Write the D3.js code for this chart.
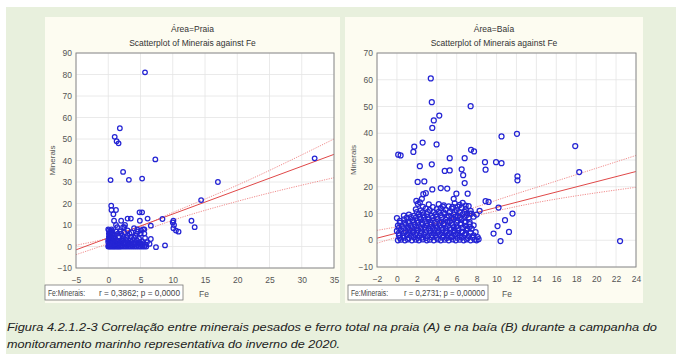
<!DOCTYPE html>
<html>
<head>
<meta charset="utf-8">
<script src="https://cdn.jsdelivr.net/npm/d3@7/dist/d3.min.js"></script>
<style>
  html, body { margin: 0; padding: 0; background: #fff; }
  text { font-family: "Liberation Sans", Arial, sans-serif; }
</style>
</head>
<body>
<svg id="chart" width="676" height="354"></svg>
<script>
// ---- data ----
const praiaPoints = [
  [5.7,81],[1.8,55],[1.0,51],[1.3,49],[1.6,48],[7.3,40.5],
  [0.36,30.9],[2.3,34.7],[3.2,31],[5.25,31.6],
  [17,30],[14.4,21.6],[32,41],
  [0.46,19],[0.5,17],[1.2,17],[0.8,15],
  [2.0,12],[3.0,13],[3.5,13],[2.6,10],[2.3,9],
  [4.85,15.9],[5.25,15.9],[6.1,13],[4.9,12],[6.6,9.7],[8.4,12.8],
  [10.0,11.2],[10.1,12],[10.2,10],[10.1,8.5],[10.5,7.4],[10.9,6.9],[12.9,12],[13.4,9],
  [8.8,0.5],[7.4,-0.3],[6.6,3.5],[6.4,1.2],[5.0,6],[4.5,8],[5.6,8],
  // dense cluster
  [0,0],[0.2,0],[0.4,0],[0.6,0],[0.8,0],[1.0,0],[1.2,0],[1.4,0],[1.6,0],[1.8,0],
  [2.0,0],[2.3,0],[2.6,0],[2.9,0],[3.2,0],[3.5,0],[3.8,0],[4.1,0],[4.4,0],[4.7,0],
  [5.0,0],[5.3,0],[5.6,0],[5.9,0],
  [0.05,0.3],[0.25,0.4],[0.45,0.3],[0.65,0.4],[0.85,0.3],
  [0.1,0.8],[0.5,0.6],[0.9,1],[1.3,0.7],[1.7,0.9],[2.1,0.6],[2.5,1],[2.9,0.7],
  [3.3,0.9],[3.7,0.6],[4.1,1],[4.5,0.7],[4.9,0.9],[5.3,0.6],
  [0,2],[0.3,2],[0.7,2],[1.1,2],[1.5,2],[2.0,2],[2.4,2],[3.0,2],[3.6,2],[4.2,2],[4.8,2],
  [0.1,1],[0.3,1.5],[0.5,2.5],[0.7,1.2],[0.2,3.5],[0.4,4.2],[0.6,5],[0.3,6],[0.5,7.2],
  [0.1,7.5],[0.7,6.2],[0.8,2.8],[0.9,3.5],[1.1,1.5],[1.3,3],[1.6,2.5],[1.9,1.5],[2.2,2.8],
  [2.6,1.7],[2.8,3],[3.2,1.5],[3.4,2.8],[3.9,1.5],[4.4,3],[4.6,1.5],[5.0,1.2],[5.5,1.5],
  [5.8,0.8],[1.0,5.5],[1.3,7],[2.0,6],[2.5,6.5],[3.0,5],[3.6,6.5],[4.0,4],[4.4,6],
  [5.1,7.5],[5.6,6],[1.7,4.5],[2.4,3.8],
  [0,3],[0.2,4],[0.4,5],[0.1,6],[0.3,7],[0.5,8],[0,8],[0.6,3],[0.2,2.5],[0.7,5.5],[0.1,4.5],
  [0.4,6.5],[0.6,7],[0.2,5.5],[0.8,4],
  [1,4],[1.5,6],[2.2,5],[2.8,4],[3.3,6],[3.8,3],[4.2,5],[4.6,7],[5.0,6],[5.4,8],
  [5.7,4],[3.0,7.5],[2.5,9],[1.8,7],[4.0,8.5],[1.2,10],[0.9,12],[1.4,9],
  [4.8,3.5],[2.0,3],[3.5,4.5],[5.2,2.5],[6.0,2]
];

const baiaPoints = [
  [3.4,60.5],[3.5,51.6],[7.4,50.1],[4.25,46.6],[3.7,44.8],[3.55,42],
  [10.5,38.8],[12.05,39.8],[17.9,35.2],[18.3,25.5],[12.1,23.9],[12.1,22.4],
  [0.13,32],[0.37,31.7],[1.74,35],[1.65,33],[2.58,36.5],[3.98,35.8],[7.44,33.8],[7.74,33.2],
  [2.3,27.7],[3.5,28.4],[5.3,30.7],[6.8,30.7],[4.8,25.9],[5.3,26.1],[6.5,26.5],[6.65,24.3],
  [6.8,21.4],[8.84,29.2],[8.9,26.4],[9.95,29.2],[10.5,28.8],[2.08,21.8],[2.75,22],
  [3.55,19],[4.4,19.5],[5.05,19.3],[7.1,17.4],[2.65,17.2],[2.9,17.6],[2.5,15.5],[1.95,14.7],
  [5.97,17.4],[5.7,15.5],[8.9,14.6],[9.2,14.3],[10.2,12.2],
  [11.6,10],[10.85,7.5],[10.1,5.3],[9.7,2.5],[11.25,3.1],[10.4,-0.3],[22.4,-0.3],
  // dense cluster
  [0.1,0],[0.4,0.2],[0.8,0],[1.1,0.3],[1.5,0],[1.9,0.2],[2.2,0],[2.6,0.3],[3.0,0],[3.3,0.2],
  [3.7,0],[4.1,0.3],[4.4,0],[4.8,0.2],[5.2,0],[5.6,0.3],[5.9,0],[6.3,0.2],[6.7,0],[7.0,0.3],
  [7.4,0],[7.8,0.2],[8.0,0],[8.2,0.4],
  [0.3,0.9],[0.7,1.0],[1.2,0.8],[1.7,1.1],[2.1,0.9],[2.5,1.0],[2.9,0.8],[3.5,1.1],[4.0,0.9],
  [4.6,1.0],[5.0,0.8],[5.4,1.1],[6.1,0.9],[6.5,1.0],[7.1,0.8],[7.6,1.0],
  [0.2,1.8],[0.6,1.5],[1.0,2.0],[1.4,1.6],[1.8,2.2],[2.3,1.7],[2.7,2.1],[3.1,1.5],[3.5,2.0],
  [3.9,1.7],[4.3,2.2],[4.7,1.6],[5.1,2.0],[5.5,1.5],[5.9,2.2],[6.3,1.7],[6.8,2.0],[7.2,1.5],
  [7.7,1.8],[8.1,1.2],
  [0.2,2.7],[0.7,2.8],[1.2,2.6],[1.6,2.9],[2.0,2.7],[2.4,2.6],[2.9,2.9],[3.3,2.7],[3.7,2.6],
  [4.1,2.8],[4.5,2.7],[4.9,2.9],[5.3,2.6],[5.7,2.8],[6.1,2.7],[6.5,2.9],[6.9,2.6],[7.4,2.8],
  [0.0,3.5],[0.4,3.8],[0.9,3.4],[1.3,3.9],[1.7,3.3],[2.1,3.7],[2.5,3.2],[2.9,4.0],[3.4,3.5],
  [3.8,3.9],[4.2,3.3],[4.6,3.8],[5.0,3.4],[5.4,4.0],[5.8,3.5],[6.2,3.8],[6.6,3.2],[7.0,3.9],
  [7.5,4.3],[7.9,3.0],
  [0.2,4.6],[0.7,4.5],[1.1,4.7],[1.5,4.4],[2.0,4.6],[2.4,4.5],[2.8,4.8],[3.2,4.4],[3.6,4.6],
  [4.0,4.5],[4.5,4.7],[4.9,4.4],[5.3,4.6],[5.7,4.8],[6.1,4.5],[6.6,4.7],[7.1,4.4],
  [0.1,5.5],[0.5,5.2],[0.9,5.8],[1.4,5.3],[1.8,5.7],[2.2,5.1],[2.6,5.9],[3.0,5.4],[3.4,5.8],
  [3.9,5.2],[4.3,5.6],[4.7,5.9],[5.1,5.3],[5.6,5.7],[6.0,5.2],[6.4,5.8],[6.9,5.4],[7.3,5.0],
  [7.7,5.6],
  [0.3,6.5],[0.8,6.6],[1.2,6.4],[1.7,6.7],[2.1,6.5],[2.5,6.6],[3.0,6.4],[3.4,6.7],[3.8,6.5],
  [4.3,6.6],[4.7,6.4],[5.1,6.7],[5.5,6.5],[6.0,6.6],[6.4,6.4],[6.8,6.7],[7.3,6.0],
  [0.0,8.3],[0.3,7.2],[0.7,7.8],[1.1,7.0],[1.6,7.6],[2.0,7.3],[2.4,7.9],[2.8,7.1],[3.2,7.7],
  [3.6,7.3],[4.1,7.8],[4.5,7.0],[4.9,7.6],[5.3,7.2],[5.7,7.9],[6.1,7.4],[6.5,7.8],[6.9,7.1],
  [7.3,6.8],
  [1.0,8.5],[1.4,8.6],[1.9,8.4],[2.3,8.7],[2.7,8.5],[3.1,8.6],[3.6,8.4],[4.0,8.7],[4.5,8.5],
  [5.0,8.6],[5.5,8.4],[5.9,8.7],[6.3,8.5],[6.8,8.6],[7.2,8.4],[7.7,8.8],
  [0.7,9.2],[1.2,9.6],[1.7,9.1],[2.2,9.7],[2.6,9.3],[3.0,9.8],[3.5,9.2],[3.9,9.7],[4.4,9.4],
  [4.8,9.9],[5.2,9.2],[5.7,9.6],[6.1,9.1],[6.6,9.7],[7.0,9.4],[7.5,10.0],[8.0,9.6],[8.3,11],
  [2.0,10.5],[2.6,10.4],[3.1,10.6],[3.7,10.5],[4.2,10.6],[4.7,10.4],[5.3,10.6],[5.8,10.5],
  [6.3,10.4],[6.8,10.6],[7.3,10.0],
  [1.9,11.5],[2.4,11.2],[2.9,11.8],[3.3,11.3],[4.0,11.6],[4.4,12.0],[4.9,11.4],[5.5,11.8],
  [6.0,11.3],[6.5,12.2],[6.9,11.6],[7.4,11.0],
  [2.6,12.5],[3.6,12.4],[4.6,12.6],[5.6,12.5],[6.1,12.6],[6.9,12.9],
  [2.1,13.6],[2.3,14.2],[3.2,13.4],[4.2,13.5],[4.7,13.0],[5.8,13.8],[6.3,13.2],[6.6,14.0],
  [7.2,12.8],[5.2,12.7]
];

// fitted line [x, y] and confidence band [x, lower, upper]
const praiaFit = [[-5,-1.55],[35,42.85]];
const praiaBand = [[-5,-3.8,0.6],[2,3.4,5.6],[10,12.2,15.8],[20,21,28.5],[35,32,50]];
const baiaFit = [[-2,0.78],[24,25.7]];
const baiaBand = [[-2,-1.1,3.7],[4,5.4,8.1],[12,12.6,17.4],[24,19.8,31.7]];

const praiaXTicks = [-5,0,5,10,15,20,25,30,35];
const praiaYTicks = [-10,0,10,20,30,40,50,60,70,80,90];
const baiaXTicks = [-2,0,2,4,6,8,10,12,14,16,18,20,22,24];
const baiaYTicks = [-10,0,10,20,30,40,50,60,70];

const svg = d3.select('#chart');

// background
svg.append('rect').attr('x', 6).attr('y', 7).attr('width', 670).attr('height', 347)
  .attr('fill', '#e8f0dd');

function drawPanel(opt) {
  const g = svg.append('g');
  g.append('rect')
    .attr('x', opt.panel[0]).attr('y', opt.panel[1])
    .attr('width', opt.panel[2]).attr('height', opt.panel[3])
    .attr('fill', '#fdfcf1');

  const x = d3.scaleLinear().domain(opt.xDomain).range([opt.plot[0], opt.plot[2]]);
  const y = d3.scaleLinear().domain(opt.yDomain).range([opt.plot[3], opt.plot[1]]);

  g.append('rect')
    .attr('x', opt.plot[0]).attr('y', opt.plot[1])
    .attr('width', opt.plot[2] - opt.plot[0]).attr('height', opt.plot[3] - opt.plot[1])
    .attr('fill', '#fff');

  // grid
  g.append('g').selectAll('line').data(opt.xTicks).join('line')
    .attr('x1', d => x(d)).attr('x2', d => x(d))
    .attr('y1', opt.plot[1]).attr('y2', opt.plot[3])
    .attr('stroke', '#e4e4e4').attr('stroke-width', 0.8);
  g.append('g').selectAll('line').data(opt.yTicks).join('line')
    .attr('y1', d => y(d)).attr('y2', d => y(d))
    .attr('x1', opt.plot[0]).attr('x2', opt.plot[2])
    .attr('stroke', '#e4e4e4').attr('stroke-width', 0.8);

  // axes (labels only, the frame is drawn separately)
  const xAxis = g.append('g').attr('transform', `translate(0,${opt.plot[3]})`)
    .call(d3.axisBottom(x).tickValues(opt.xTicks).tickSize(0).tickPadding(9));
  const yAxis = g.append('g').attr('transform', `translate(${opt.plot[0]},0)`)
    .call(d3.axisLeft(y).tickValues(opt.yTicks).tickSize(0).tickPadding(4));
  [xAxis, yAxis].forEach(a => {
    a.select('.domain').remove();
    a.selectAll('text').attr('fill', '#555').style('font-size', '8.5px')
      .style('font-family', '"Liberation Sans", Arial, sans-serif');
  });

  // band + fit
  const band = g.append('g');
  [1, 2].forEach(k => {
    band.append('path')
      .datum(opt.band)
      .attr('d', d3.line().curve(d3.curveMonotoneX).x(d => x(d[0])).y(d => y(d[k])))
      .attr('fill', 'none').attr('stroke', '#ee8080').attr('stroke-width', 0.9)
      .attr('stroke-dasharray', '1.2,1.2');
  });
  band.append('path')
    .datum(opt.fit)
    .attr('d', d3.line().x(d => x(d[0])).y(d => y(d[1])))
    .attr('fill', 'none').attr('stroke', '#e04848').attr('stroke-width', 1);

  // points
  g.append('g').selectAll('circle').data(opt.points).join('circle')
    .attr('cx', d => x(d[0])).attr('cy', d => y(d[1]))
    .attr('r', opt.r)
    .attr('fill', 'none').attr('stroke', '#2424d4').attr('stroke-width', 1.25);

  // frame
  g.append('rect')
    .attr('x', opt.plot[0]).attr('y', opt.plot[1])
    .attr('width', opt.plot[2] - opt.plot[0]).attr('height', opt.plot[3] - opt.plot[1])
    .attr('fill', 'none').attr('stroke', '#8a8a8a').attr('stroke-width', 1);

  const cx = opt.panel[0] + opt.panel[2] / 2;
  g.append('text').attr('x', cx).attr('y', 32).attr('text-anchor', 'middle')
    .attr('fill', '#333').style('font-size', '8.5px').text(opt.title);
  g.append('text').attr('x', cx).attr('y', 46).attr('text-anchor', 'middle')
    .attr('fill', '#333').style('font-size', '8.5px').text('Scatterplot of Minerais against Fe');

  g.append('text')
    .attr('transform', `translate(${opt.yLabelX},${(opt.plot[1] + opt.plot[3]) / 2}) rotate(-90)`)
    .attr('text-anchor', 'middle').attr('fill', '#555').style('font-size', '8px')
    .text('Minerais');
  g.append('text').attr('x', opt.xLabelX).attr('y', 297).attr('text-anchor', 'middle')
    .attr('fill', '#555').style('font-size', '8.5px').text('Fe');

  // stats box
  g.append('rect').attr('x', opt.box[0]).attr('y', 285).attr('width', opt.box[1]).attr('height', 15)
    .attr('fill', '#fff').attr('stroke', '#777').attr('stroke-width', 0.8);
  g.append('text').attr('x', opt.box[0] + 3).attr('y', 296)
    .attr('textLength', 37).attr('lengthAdjust', 'spacingAndGlyphs')
    .attr('fill', '#444').style('font-size', '8.5px').text('Fe:Minerais:');
  g.append('text').attr('x', opt.box[0] + opt.box[1] - 84).attr('y', 296)
    .attr('textLength', 81).attr('lengthAdjust', 'spacingAndGlyphs')
    .attr('fill', '#444').style('font-size', '8.5px').text(opt.stats);
}

drawPanel({
  panel: [45, 17, 295, 286], plot: [76, 53, 334, 268],
  xDomain: [-5, 35], yDomain: [-10, 90], xTicks: praiaXTicks, yTicks: praiaYTicks,
  points: praiaPoints, fit: praiaFit, band: praiaBand, r: 2.3,
  title: 'Área=Praia', yLabelX: 55, xLabelX: 204, box: [45, 138],
  stats: 'r = 0,3862; p = 0,0000'
});

drawPanel({
  panel: [345, 17, 298, 286], plot: [377, 53, 636, 267],
  xDomain: [-2, 24], yDomain: [-10, 70], xTicks: baiaXTicks, yTicks: baiaYTicks,
  points: baiaPoints, fit: baiaFit, band: baiaBand, r: 2.5,
  title: 'Área=Baía', yLabelX: 356, xLabelX: 507, box: [348, 140],
  stats: 'r = 0,2731; p = 0,00000'
});

// caption
const caption = [
  'Figura 4.2.1.2-3 Correlação entre minerais pesados e ferro total na praia (A) e na baía (B) durante a campanha do',
  'monitoramento marinho representativa do inverno de 2020.'
];
const capWidths = [650, 333];
svg.selectAll('text.caption').data(caption).join('text')
  .attr('class', 'caption')
  .attr('x', 7).attr('y', (d, i) => 331 + i * 17)
  .attr('textLength', (d, i) => capWidths[i]).attr('lengthAdjust', 'spacingAndGlyphs')
  .attr('fill', '#222')
  .style('font-family', '"Liberation Sans Narrow", "Liberation Sans", Arial, sans-serif')
  .style('font-style', 'italic').style('font-size', '11.5px')
  .text(d => d);
</script>
</body>
</html>
